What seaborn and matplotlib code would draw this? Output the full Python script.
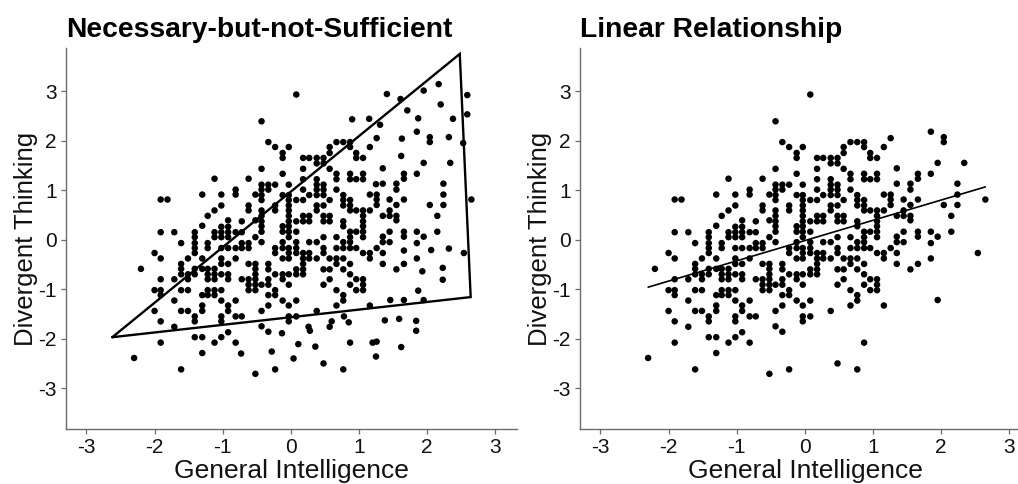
import numpy as np
import pandas as pd
import matplotlib
matplotlib.use("Agg")
import matplotlib.pyplot as plt
import seaborn as sns

# ---------------- data ----------------
# General-intelligence levels (x) and the divergent-thinking values (y) found at each level
gi_levels = [-2.30, -2.20, -2.00, -1.91, -1.81, -1.71, -1.61, -1.51, -1.41, -1.30,
             -1.22, -1.12, -1.02, -0.92, -0.81, -0.72, -0.62, -0.52, -0.43, -0.33,
             -0.23, -0.12, -0.03, 0.08, 0.18, 0.27, 0.38, 0.48, 0.57, 0.67,
             0.77, 0.87, 0.96, 1.06, 1.16, 1.26, 1.35, 1.45, 1.55, 1.66,
             1.85, 1.95, 2.04, 2.15, 2.24, 2.34, 2.54, 2.65]
dt_by_level = [
    [-2.39],
    [-0.59],
    [-0.27, -1.02, -1.44],
    [0.81, 0.15, -0.38, -0.80, -1.02, -1.12, -1.65, -2.08],
    [0.81],
    [0.15, -0.80, -1.23, -1.76],
    [-0.07, -0.49, -0.59, -0.70, -1.02, -1.44, -2.62],
    [-0.38, -0.70, -0.80, -1.02, -1.44],
    [0.15, 0.05, -0.07, -0.17, -0.27, -0.59, -0.70, -1.55, -1.65, -1.97],
    [0.91, 0.28, -0.38, -0.59, -1.12, -1.33, -1.44, -1.97, -2.29],
    [0.48, -0.07, -0.17, -0.59, -0.70, -0.80, -1.02, -1.12],
    [1.23, 0.59, 0.15, 0.05, -0.59, -0.70, -0.80, -1.02, -1.12, -2.08],
    [0.91, 0.69, 0.26, 0.15, 0.05, -0.17, -0.38, -0.49, -0.70, -1.02, -1.23, -1.55, -1.65, -1.97],
    [0.39, 0.26, 0.15, 0.05, -0.17, -0.49, -0.70, -0.80, -1.33, -1.44, -1.87],
    [1.01, 0.91, 0.15, -0.17, -0.38, -1.23, -1.55, -2.08],
    [0.37, 0.15, -0.07, -0.17, -0.80, -1.55],
    [1.23, 0.69, 0.59, -0.07, -0.17, -0.49, -0.80, -0.91, -1.02],
    [0.91, 0.39, 0.05, -0.49, -0.59, -0.70, -0.80, -0.91, -1.02, -2.71],
    [2.39, 1.43, 1.11, 1.01, 0.90, 0.80, 0.59, 0.48, 0.37, 0.27, 0.16, -0.05, -0.91, -1.44, -1.75],
    [1.97, 1.11, 1.01, -0.49, -0.60, -0.80, -0.91, -1.12, -1.33, -1.86],
    [1.87, 1.11, 0.69, 0.59, -0.17, -0.27, -0.70, -1.02, -1.12, -2.62],
    [1.75, 1.65, 1.33, 0.90, 0.27, 0.16, -0.05, -0.17, -0.38, -0.70, -0.80, -1.23],
    [1.87, 1.11, 0.90, 0.80, 0.69, 0.59, 0.48, 0.37, 0.27, 0.16, 0.05, -0.17, -0.27, -0.38,
     -0.70, -0.91, -1.33, -1.55, -1.65],
    [2.93, 0.80, 0.37, 0.16, -0.05, -0.17, -0.27, -0.60, -0.70, -1.23, -1.55],
    [1.65, 1.43, 1.22, 1.01, 0.80, 0.48, 0.37, -0.27, -0.38, -0.49, -0.60, -0.70],
    [1.65, 0.90, 0.48, 0.37, -0.05, -0.27, -0.38],
    [1.65, 1.54, 1.22, 1.11, 1.01, 0.90, 0.69, 0.59, -0.05, -0.38, -1.44],
    [1.65, 1.54, 1.11, 1.01, 0.90, 0.69, 0.48, 0.37, 0.05, -0.17, -0.27, -0.60, -0.91, -2.50],
    [1.87, 1.75, 1.43, 0.80, 0.48, 0.37, -0.38, -0.60, -0.80],
    [1.97, 1.33, 1.22, 1.01, 0.05, -0.17, -0.38, -0.49, -1.02, -1.33],
    [1.97, 0.90, 0.80, 0.69, 0.37, 0.27, -0.05, -0.17, -0.38, -0.60, -1.12, -1.23, -2.62],
    [1.97, 1.87, 1.33, 1.22, 0.80, 0.69, 0.59, 0.16, 0.05, -0.05, -0.17, -0.49, -0.70, -0.91, -2.08],
    [1.75, 1.65, 1.22, 0.59, 0.16, -0.17, -0.80, -1.02],
    [1.65, 1.33, 1.22, 0.59, 0.48, 0.37, 0.27, 0.16, 0.05, -0.27, -0.80, -0.91, -1.02],
    [1.87, 0.91, 0.59, -0.27, -0.38, -1.33],
    [2.05, 0.91, 0.81, 0.70, -0.17],
    [1.44, 1.13, 0.48, 0.06, -0.05, -0.27, -0.49],
    [0.81, 0.59, 0.48, 0.16, -0.05],
    [1.13, 1.01, 0.70, 0.48, 0.39, -0.60],
    [1.33, 1.23, 0.81, 0.16, 0.06, -0.49],
    [2.18, 1.33, 0.16, -0.07, -0.38],
    [1.55, 0.06, -1.22],
    [2.07, 1.97, 0.70],
    [0.48, 0.16],
    [1.13, 0.91, 0.70],
    [1.55],
    [-0.27],
    [0.81],
]

# additional observations that appear only in the left ("necessary-but-not-sufficient") panel
gi_extra = [2.17, 1.95, 2.59, 2.20, 1.71, 2.59, 1.87, 2.38, 2.32, 1.63, 2.53, 1.62,
            1.41, 1.61, 0.90, 1.15, 1.31, 1.25,
            1.66, 2.06, 2.32, 1.93, 2.23, 2.23, 1.87, 1.66, 0.60, 0.57, 0.26, 0.28,
            0.78, 0.85, 1.38, 1.59, 1.84, 1.84, 1.46, 0.11, 0.36, 1.20, 1.26, 1.62,
            0.04, 1.25, -0.73, -0.28, -0.13]
dt_extra = [3.14, 3.01, 2.92, 2.73, 2.61, 2.53, 2.45, 2.44, 2.07, 2.04, 1.95, 1.69,
            2.94, 2.84, 2.43, 2.44, 2.32, 1.12,
            -0.22, -0.21, -0.18, -0.64, -0.57, -0.81, -1.03, -1.22, -1.65, -1.76, -1.76, -1.84,
            -1.55, -1.67, -1.63, -1.60, -1.64, -1.84, -1.22, -2.11, -2.16, -2.08, -2.06, -2.17,
            -2.40, -2.36, -2.30, -2.26, -1.89]

# triangle outlining the necessary-but-not-sufficient region
tri_gi = [-2.62, 2.48, 2.64, -2.62]
tri_dt = [-1.97, 3.75, -1.16, -1.97]

tick_values = [-3, -2, -1, 0, 1, 2, 3]
titles = ["Necessary-but-not-Sufficient", "Linear Relationship"]
x_label = "General Intelligence"
y_label = "Divergent Thinking"

# ---------------- tables ----------------
linear = pd.DataFrame({
    "gi": [g for g, ys in zip(gi_levels, dt_by_level) for _ in ys],
    "dt": [y for ys in dt_by_level for y in ys],
})
nns = pd.concat([linear, pd.DataFrame({"gi": gi_extra, "dt": dt_extra})], ignore_index=True)

# ---------------- style ----------------
sns.set_style("ticks")
plt.rcParams["font.family"] = ["Liberation Sans", "DejaVu Sans"]
plt.rcParams["axes.unicode_minus"] = False

W, H = 1018, 484
fig = plt.figure(figsize=(W / 100, H / 100), dpi=100)
ax1 = fig.add_axes([66 / W, 54.7 / H, 451 / W, 381.3 / H])
ax2 = fig.add_axes([580 / W, 54.7 / H, 451 / W, 381.3 / H])

spine_col = "#6b6b6b"
txt_col = "#111111"

for ax, df in [(ax1, nns), (ax2, linear)]:
    sns.scatterplot(data=df, x="gi", y="dt", ax=ax, color="black", s=22,
                    linewidth=0, edgecolor="none", legend=False)

ax1.plot(tri_gi, tri_dt, color="black", lw=1.7, solid_joinstyle="miter")
sns.regplot(data=linear, x="gi", y="dt", ax=ax2, scatter=False, ci=None,
            color="black", line_kws=dict(lw=1.2))

for ax, title in [(ax1, titles[0]), (ax2, titles[1])]:
    ax.set_xlim(-3.3, 3.32)
    ax.set_ylim(-3.83, 3.87)
    ax.set_xticks(tick_values)
    ax.set_yticks(tick_values)
    ax.set_xticklabels([str(t) for t in tick_values])
    ax.set_yticklabels([str(t) for t in tick_values])
    ax.tick_params(axis="both", direction="out", length=3.5, width=0.9,
                   color=spine_col, labelsize=15, labelcolor=txt_col, pad=3)
    for side in ["top", "right"]:
        ax.spines[side].set_visible(False)
    for side in ["left", "bottom"]:
        ax.spines[side].set_color(spine_col)
        ax.spines[side].set_linewidth(1.0)
    ax.set_xlabel(x_label, fontsize=19, color=txt_col, labelpad=1)
    ax.set_ylabel(y_label, fontsize=18.5, color=txt_col, labelpad=0)
    ax.set_title(title, loc="left", fontsize=20.3, fontweight="bold", color="black", pad=8)

fig.savefig("out.png", dpi=100)
